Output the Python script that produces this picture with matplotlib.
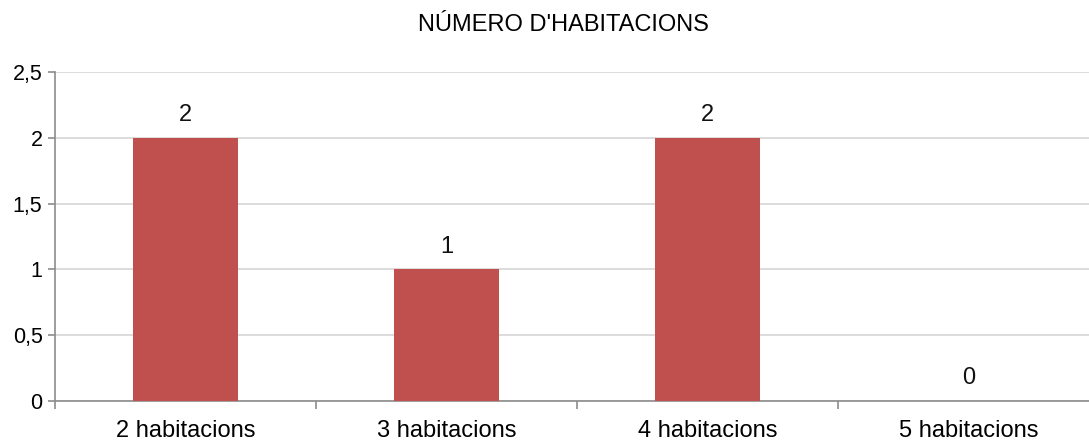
import numpy as np
import matplotlib.pyplot as plt

plt.rcParams['font.family'] = ['Liberation Sans', 'DejaVu Sans']

# data
categories = ['2 habitacions', '3 habitacions', '4 habitacions', '5 habitacions']
values = [2, 1, 2, 0]
yticks = [0, 0.5, 1, 1.5, 2, 2.5]
ytick_labels = ['0', '0,5', '1', '1,5', '2', '2,5']

bar_color = '#C0504D'
axis_color = '#8C8C8C'
grid_color = '#D9D9D9'

fig = plt.figure(figsize=(10.89, 4.43), dpi=100)
# axes run a little past the right edge, like the cropped original
ax = fig.add_axes([55/1089, 1 - 401/443, 1044/1089, 329/443])

x = np.arange(len(categories))
ax.bar(x, values, width=0.4, color=bar_color, zorder=3)

for xi, v in zip(x, values):
    ax.text(xi, v + 0.09, str(v), ha='center', va='bottom', fontsize=17, color='#111111')

ax.set_xlim(-0.5, len(categories) - 0.5)
ax.set_ylim(0, 2.5)
ax.set_yticks(yticks)
ax.set_yticklabels(ytick_labels, fontsize=15.5)
ax.set_xticks(x)
ax.set_xticklabels(categories, fontsize=17)
ax.tick_params(axis='x', length=0, pad=14)
ax.set_xticks(np.arange(len(categories) + 1) - 0.5, minor=True)
ax.tick_params(axis='x', which='minor', length=6, color=axis_color, width=1.2)
ax.tick_params(axis='y', length=5, color=axis_color, width=1.2, pad=4)

ax.yaxis.grid(True, color=grid_color, linewidth=1.3, zorder=0)
ax.set_axisbelow(True)
for s in ['top', 'right']:
    ax.spines[s].set_visible(False)
for s in ['left', 'bottom']:
    ax.spines[s].set_color(axis_color)
    ax.spines[s].set_linewidth(1.2)

fig.text(563/1089, 1 - 25/443, "NÚMERO D'HABITACIONS", ha='center', va='center', fontsize=17)

fig.savefig('out.png', dpi=100)
